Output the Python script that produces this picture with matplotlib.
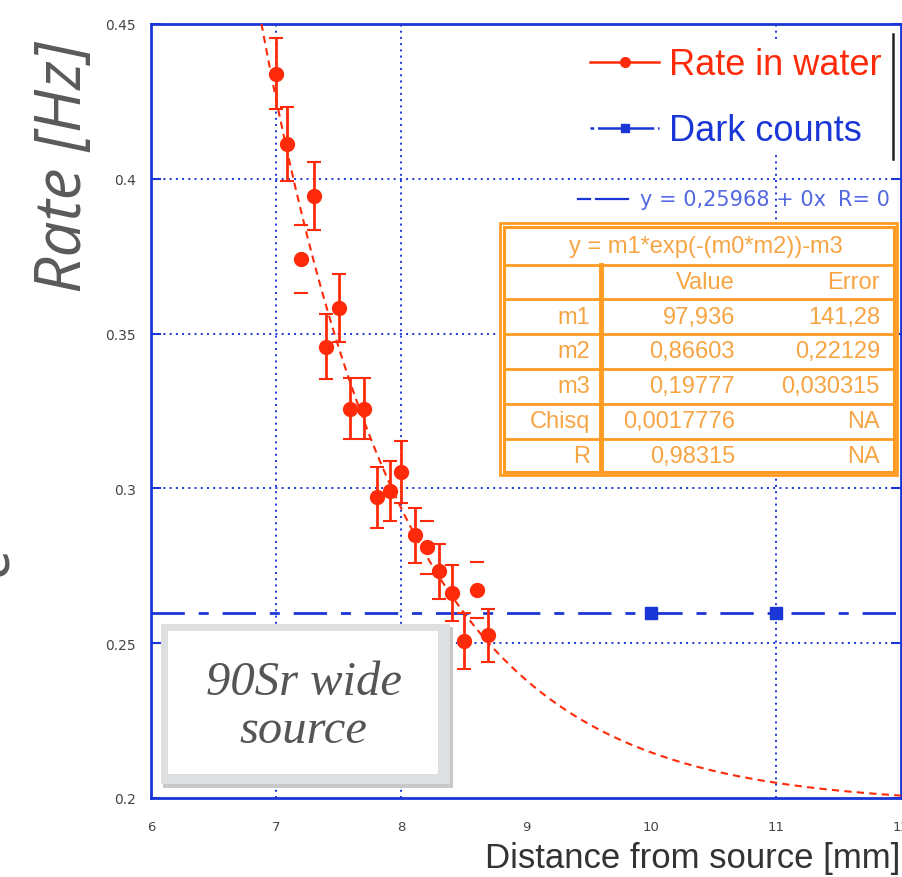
import matplotlib
matplotlib.use("Agg")
import matplotlib.pyplot as plt
import numpy as np
from matplotlib.patches import Rectangle
from matplotlib.lines import Line2D

W, H = 902, 878

# ---------------- data ----------------
water_x = [7.00, 7.09, 7.30, 7.40, 7.50, 7.59, 7.70, 7.81, 7.91, 8.00, 8.11, 8.30, 8.41, 8.50, 8.70]
water_y = [0.4339, 0.4113, 0.3945, 0.3458, 0.3584, 0.3258, 0.3258, 0.2971, 0.2993, 0.3052,
           0.2848, 0.2732, 0.2661, 0.2506, 0.2526]
water_err = [0.0115, 0.012, 0.011, 0.0105, 0.011, 0.0098, 0.0098, 0.0098, 0.0097, 0.010,
             0.009, 0.009, 0.009, 0.009, 0.0086]
# points whose error bars only show the caps
capsonly_x = [7.20, 8.21, 8.61]
capsonly_y = [0.3740, 0.2810, 0.2671]
capsonly_err = [0.011, 0.0085, 0.009]

dark_x = [10, 11]
dark_y = [0.2597, 0.2597]

# fit parameters
m1, m2, m3 = 97.936, 0.86603, 0.19777
dark_intercept, dark_slope = 0.25968, 0.0

x_ticks = [6, 7, 8, 9, 10, 11, 12]
x_grid = [7, 8, 11]
y_ticks = [0.2, 0.25, 0.3, 0.35, 0.4, 0.45]
y_tick_labels = ["0.2", "0.25", "0.3", "0.35", "0.4", "0.45"]

table_title = "y = m1*exp(-(m0*m2))-m3"
table_rows = ["m1", "m2", "m3", "Chisq", "R"]
table_values = ["97,936", "0,86603", "0,19777", "0,0017776", "0,98315"]
table_errors = ["141,28", "0,22129", "0,030315", "NA", "NA"]

RED = "#ff2a0a"
BLUE = "#1a36d6"
ORANGE = "#ff9a22"
ORANGE_TXT = "#f7a443"


def fx(px):
    return px / W


def fy(py):
    return 1 - py / H


fig = plt.figure(figsize=(W / 100, H / 100), dpi=100)
ax = fig.add_axes([fx(151), fy(799), (901 - 151) / W, (799 - 25) / H])

ax.set_xlim(6, 12)
ax.set_ylim(0.2, 0.45)

# ticks
ax.set_xticks(x_ticks)
ax.set_xticklabels([str(t) for t in x_ticks])
ax.set_xticks(x_grid, minor=True)
ax.set_yticks(y_ticks)
ax.set_yticklabels(y_tick_labels)

for s in ax.spines.values():
    s.set_color(BLUE)
    s.set_linewidth(2)
ax.tick_params(axis="x", which="major", length=0, pad=16, labelsize=9.5, labelcolor="#444444")
ax.tick_params(axis="x", which="minor", direction="in", length=8, width=1.6, color=BLUE,
               top=True, bottom=True)
ax.tick_params(axis="y", which="major", direction="in", length=7, width=1.5, color=BLUE,
               right=True, pad=11, labelsize=10, labelcolor="#444444")

# grid (only at selected positions, as in the original)
gkw = dict(color=BLUE, linestyle=(0, (1, 2.2)), linewidth=1.4, zorder=0.5)
for gx in x_grid:
    ax.axvline(gx, **gkw)
for gy in y_ticks[1:-1]:
    ax.axhline(gy, **gkw)

# fit curve
xf = np.linspace(6, 12, 400)
yf = m1 * np.exp(-(xf * m2)) + m3
ax.plot(xf, yf, color=RED, linewidth=1.5, linestyle=(0, (3.5, 2.5)), zorder=3)

# dark count fit
DARK_LS = (0, (12, 5, 3.6, 5))
xd = np.array([6, 12])
ax.plot(xd, dark_intercept + dark_slope * xd, color=BLUE, linewidth=2,
        linestyle=DARK_LS, zorder=3)
ax.plot(dark_x, dark_y, "s", color=BLUE, markersize=8, zorder=4)

# water data
ekw = dict(fmt="o", color=RED, markersize=10, elinewidth=2, capsize=5, capthick=1.5, zorder=5)
ax.errorbar(water_x, water_y, yerr=water_err, **ekw)
eb2 = ax.errorbar(capsonly_x, capsonly_y, yerr=capsonly_err, **ekw)
for c in eb2[2]:
    c.set_visible(False)

# legend
h_red = Line2D([], [], color=RED, linewidth=1.8, marker="o", markersize=7)
h_blue = Line2D([], [], color=BLUE, linewidth=1.8, linestyle=(0, (1.5, 1.5, 9, 0)),
                marker="s", markersize=6)
leg = ax.legend([h_red, h_blue], ["Rate in water", "Dark counts"], loc="upper right",
                bbox_to_anchor=(fx(887), fy(43)), bbox_transform=fig.transFigure,
                prop={"family": "Liberation Sans", "size": 26}, frameon=True,
                facecolor="white", edgecolor="none", framealpha=1, handlelength=1.9,
                handletextpad=0.28, labelspacing=0.86, borderpad=0.15, borderaxespad=0)
for t, c in zip(leg.get_texts(), [RED, BLUE]):
    t.set_color(c)
fig.add_artist(Line2D([fx(893), fx(893)], [fy(35), fy(160)], color="#222222", linewidth=1.8))

# dark fit text
fig.add_artist(Line2D([fx(578), fx(590)], [fy(200), fy(200)], color=BLUE, linewidth=1.6))
fig.add_artist(Line2D([fx(596), fx(628)], [fy(200), fy(200)], color=BLUE, linewidth=1.6))
fig.text(fx(640), fy(200), "y = 0,25968 + 0x", color=BLUE, fontsize=15,
         family="DejaVu Sans", ha="left", va="center", alpha=0.75)
fig.text(fx(890), fy(200), "R= 0", color=BLUE, fontsize=15,
         family="DejaVu Sans", ha="right", va="center", alpha=0.75)

# ---- fit table ----
fig.add_artist(Rectangle((fx(500), fy(476)), (897 - 500) / W, (476 - 224) / H,
                         transform=fig.transFigure, facecolor="white", edgecolor=ORANGE,
                         linewidth=2, zorder=5))
fig.add_artist(Rectangle((fx(503.5), fy(472.5)), (893.5 - 503.5) / W, (472.5 - 227.5) / H,
                         transform=fig.transFigure, facecolor="none", edgecolor=ORANGE,
                         linewidth=2.2, zorder=6))
for yl in [266, 300, 335, 370, 405, 440]:
    fig.add_artist(Line2D([fx(503.5), fx(893.5)], [fy(yl), fy(yl)], color=ORANGE,
                          linewidth=2, zorder=6))
fig.add_artist(Line2D([fx(601), fx(601)], [fy(266), fy(472.5)], color=ORANGE,
                      linewidth=3.5, zorder=6))
tkw = dict(color=ORANGE_TXT, fontsize=17, family="Liberation Sans", va="center", zorder=7)
fig.text(fx(706), fy(247), table_title, ha="center", **tkw)
fig.text(fx(735), fy(283), "Value", ha="right", **tkw)
fig.text(fx(880), fy(283), "Error", ha="right", **tkw)
row_y = [318, 352, 387, 422, 457]
for ry, name, val, err in zip(row_y, table_rows, table_values, table_errors):
    fig.text(fx(590), fy(ry), name, ha="right", **tkw)
    fig.text(fx(735), fy(ry), val, ha="right", **tkw)
    fig.text(fx(880), fy(ry), err, ha="right", **tkw)

# ---- annotation box ----
fig.add_artist(Rectangle((fx(163), fy(789)), (453 - 163) / W, (789 - 628) / H,
                         transform=fig.transFigure, facecolor="#c8c8c8", edgecolor="none",
                         zorder=5))
fig.add_artist(Rectangle((fx(161), fy(785)), (450 - 161) / W, (785 - 625) / H,
                         transform=fig.transFigure, facecolor="#dedfe0", edgecolor="none",
                         zorder=5))
fig.add_artist(Rectangle((fx(168), fy(775)), (438 - 168) / W, (775 - 632) / H,
                         transform=fig.transFigure, facecolor="white", edgecolor="none",
                         zorder=6))
akw = dict(color="#555555", fontsize=35, family="Liberation Serif", style="italic",
           ha="center", va="baseline", zorder=7)
fig.text(fx(304), fy(695), "90Sr wide", **akw)
fig.text(fx(303), fy(743), "source", **akw)

# ---- axis labels ----
fig.text(fx(900), fy(859), "Distance from source [mm]", ha="right", va="center",
         fontsize=25, family="Liberation Sans", color="#333333")
fig.text(fx(64), fy(167), "Rate [Hz]", rotation=90, ha="center", va="center",
         fontsize=46, family="Open Sans", style="italic", color="#5a5a5a")
fig.text(fx(-10), fy(560), "e", rotation=90, ha="center", va="center",
         fontsize=46, family="Open Sans", style="italic", color="#5a5a5a")

fig.savefig("out.png", dpi=100)
